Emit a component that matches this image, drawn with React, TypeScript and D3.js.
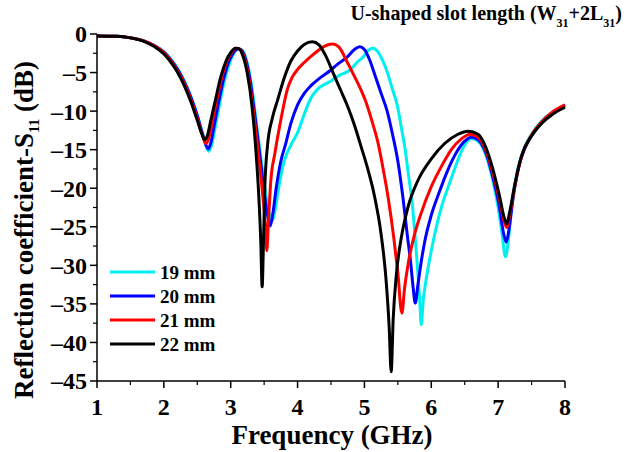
import React from "react";
import * as d3 from "d3";

const xTicks = [1, 2, 3, 4, 5, 6, 7, 8];
const yTicks = [0, -5, -10, -15, -20, -25, -30, -35, -40, -45];
const seriesNames = ["19 mm", "20 mm", "21 mm", "22 mm"];
const seriesColors = ["#00f0f0", "#0000ff", "#ff0000", "#000000"];

// frequency (GHz), S11 (dB)
const s19: [number, number][] = [
  [1.0, -0.25], [1.3, -0.3], [1.5, -0.5], [1.7, -0.9], [1.85, -1.45], [2.0, -2.3], [2.1, -3.2], [2.2, -4.4],
  [2.3, -6.0], [2.4, -8.0], [2.5, -10.5], [2.6, -13.5], [2.67, -15.2], [2.72, -14.2], [2.77, -12], [2.84, -8.8],
  [2.92, -5.6], [3.0, -3.4], [3.06, -2.3], [3.12, -1.9], [3.17, -2.1], [3.23, -3.2], [3.3, -6.0], [3.37, -10.5],
  [3.45, -16], [3.52, -20.5], [3.57, -23], [3.62, -24.2], [3.66, -23], [3.72, -19.8], [3.8, -16.5], [3.9, -14.4],
  [4.0, -12.8], [4.1, -10.4], [4.2, -8.3], [4.32, -7.0], [4.48, -6.2], [4.62, -5.4], [4.78, -4.7], [4.9, -3.6],
  [4.98, -3.0], [5.06, -2.1], [5.13, -1.86], [5.2, -2.3], [5.27, -3.4], [5.34, -4.9], [5.42, -7.2], [5.49, -9.2],
  [5.56, -12.5], [5.61, -15], [5.67, -19], [5.71, -21.5], [5.76, -26.5], [5.8, -31], [5.83, -35], [5.85, -37.7],
  [5.88, -34.5], [5.92, -32], [5.97, -29.5], [6.05, -26], [6.15, -22.5], [6.28, -19.2], [6.4, -16.3], [6.5, -14.4],
  [6.6, -13.6], [6.7, -13.9], [6.82, -15.8], [6.92, -19], [7.0, -22.5], [7.06, -26], [7.11, -28.9], [7.15, -27],
  [7.2, -22.5], [7.28, -18], [7.38, -15], [7.5, -13], [7.65, -11.3], [7.8, -10.2], [8.0, -9.3],
];
const s20: [number, number][] = [
  [1.0, -0.25], [1.3, -0.3], [1.5, -0.5], [1.7, -0.9], [1.85, -1.5], [2.0, -2.35], [2.1, -3.3], [2.2, -4.5],
  [2.3, -6.1], [2.4, -8.1], [2.5, -10.6], [2.6, -13.6], [2.66, -14.9], [2.7, -14.2], [2.75, -12], [2.82, -8.8],
  [2.9, -5.6], [2.98, -3.4], [3.05, -2.3], [3.11, -1.9], [3.16, -2.1], [3.22, -3.2], [3.29, -6], [3.36, -10.5],
  [3.44, -16], [3.5, -20.5], [3.55, -23.5], [3.59, -24.9], [3.63, -23.3], [3.68, -20], [3.75, -16.5], [3.82, -14.3],
  [3.9, -11.6], [4.0, -9.2], [4.1, -7.7], [4.2, -6.7], [4.35, -5.6], [4.48, -4.8], [4.6, -3.9], [4.74, -3.0],
  [4.85, -2.0], [4.93, -1.65], [5.0, -2.0], [5.08, -3.4], [5.16, -5.4], [5.25, -7.7], [5.34, -10], [5.42, -13],
  [5.5, -16.5], [5.58, -21.5], [5.64, -26], [5.69, -29.5], [5.73, -33], [5.76, -34.9], [5.8, -32.5], [5.85, -29.5],
  [5.9, -27], [6.0, -23.5], [6.12, -20.5], [6.23, -18], [6.38, -15.3], [6.5, -13.9], [6.6, -13.4], [6.7, -13.7],
  [6.82, -15.5], [6.92, -18.5], [7.02, -22.5], [7.08, -25.8], [7.12, -27.0], [7.16, -25.5], [7.22, -21.5],
  [7.3, -17.5], [7.4, -14.8], [7.55, -12.6], [7.7, -11], [7.85, -10], [8.0, -9.2],
];
const s21: [number, number][] = [
  [1.0, -0.25], [1.3, -0.3], [1.5, -0.5], [1.7, -0.9], [1.85, -1.5], [2.0, -2.4], [2.1, -3.4], [2.2, -4.7],
  [2.3, -6.3], [2.4, -8.4], [2.5, -10.9], [2.58, -13.2], [2.63, -14.2], [2.67, -13.6], [2.72, -11.6], [2.79, -8.6],
  [2.87, -5.5], [2.95, -3.4], [3.02, -2.3], [3.09, -1.85], [3.14, -2.0], [3.2, -3.0], [3.27, -5.6], [3.34, -10],
  [3.42, -16], [3.48, -21], [3.52, -25], [3.54, -28.1], [3.56, -25], [3.6, -19], [3.66, -15.5], [3.72, -12.5],
  [3.78, -9.8], [3.84, -7.4], [3.92, -5.6], [4.0, -4.6], [4.1, -3.7], [4.2, -2.9], [4.3, -2.2], [4.4, -1.6],
  [4.53, -1.3], [4.62, -1.7], [4.74, -3.6], [4.84, -5.3], [4.93, -6.9], [5.03, -9.0], [5.12, -11.5], [5.2, -14],
  [5.28, -17.5], [5.36, -21.5], [5.44, -26.5], [5.5, -31], [5.56, -36.2], [5.6, -33], [5.66, -29.5], [5.75, -26],
  [5.85, -23.2], [6.0, -19.8], [6.15, -17.2], [6.3, -15], [6.45, -13.6], [6.58, -13.0], [6.7, -13.4], [6.82, -15.2],
  [6.92, -18], [7.02, -21.5], [7.09, -24.3], [7.13, -25.1], [7.17, -23.6], [7.25, -19.7], [7.35, -15.9],
  [7.5, -13.1], [7.65, -11.4], [7.8, -10.2], [8.0, -9.2],
];
const s22: [number, number][] = [
  [1.0, -0.25], [1.3, -0.3], [1.5, -0.5], [1.7, -0.95], [1.85, -1.6], [2.0, -2.6], [2.1, -3.6], [2.2, -4.9],
  [2.3, -6.6], [2.4, -8.7], [2.5, -11.2], [2.57, -13.0], [2.61, -13.7], [2.65, -13.2], [2.7, -11.3], [2.77, -8.6],
  [2.85, -5.6], [2.93, -3.5], [3.0, -2.4], [3.07, -1.85], [3.12, -1.9], [3.18, -2.8], [3.25, -5.2], [3.32, -9.5],
  [3.38, -15.5], [3.42, -21], [3.45, -27], [3.47, -32.8], [3.49, -27], [3.51, -20], [3.55, -14.5], [3.62, -11],
  [3.7, -8.6], [3.8, -5.7], [3.9, -3.5], [4.0, -2.2], [4.1, -1.35], [4.22, -1.0], [4.32, -1.4], [4.42, -2.8],
  [4.53, -5.0], [4.64, -7.2], [4.75, -9.4], [4.85, -11.8], [4.95, -14.6], [5.05, -17.5], [5.15, -21], [5.25, -26],
  [5.32, -31.5], [5.37, -38], [5.4, -43.8], [5.43, -37], [5.48, -31], [5.55, -26.5], [5.65, -22.5], [5.8, -19],
  [6.0, -16.2], [6.2, -14.2], [6.4, -13.0], [6.55, -12.6], [6.7, -13.0], [6.82, -14.8], [6.92, -17.5], [7.02, -21],
  [7.09, -23.8], [7.13, -24.6], [7.17, -23.2], [7.25, -19.5], [7.35, -15.8], [7.5, -13.2], [7.65, -11.6],
  [7.8, -10.5], [8.0, -9.5],
];
const seriesData = [s19, s20, s21, s22];

const W = 627;
const H = 452;
const FONT = "'Liberation Serif', 'Times New Roman', serif";

export default function App() {
  const x = d3.scaleLinear().domain([1, 8]).range([97, 565]);
  const y = d3.scaleLinear().domain([0, -45]).range([34, 381]);
  const line = d3
    .line<[number, number]>()
    .x((d) => x(d[0]))
    .y((d) => y(d[1]))
    .curve(d3.curveMonotoneX);

  const xMinor = d3.range(1.5, 8, 1);
  const yMinor = d3.range(-2.5, -45, -5);
  const x0 = x(1);
  const yB = y(-45);
  const fmtY = (t: number) => (t < 0 ? "\u2013" + Math.abs(t) : String(t));

  return (
    <svg
      width={W}
      height={H}
      style={{ position: "absolute", left: 0, top: 0, background: "#fff" }}
      fontFamily={FONT}
      fontWeight="bold"
    >
      <rect width={W} height={H} fill="#fff" />
      {/* series */}
      {seriesData.map((s, i) => (
        <path
          key={i}
          d={line(s) || ""}
          fill="none"
          stroke={seriesColors[i]}
          strokeWidth={3}
          strokeLinejoin="round"
        />
      ))}
      {/* axes */}
      <line x1={x0} x2={x0} y1={y(0)} y2={yB} stroke="#000" strokeWidth={1.5} />
      <line x1={x0} x2={x(8)} y1={yB} y2={yB} stroke="#000" strokeWidth={1.5} />
      {yTicks.map((t) => (
        <g key={"y" + t}>
          <line x1={x0 - 7} x2={x0} y1={y(t)} y2={y(t)} stroke="#000" strokeWidth={1.5} />
          <text x={87} y={y(t)} dy="0.35em" textAnchor="end" fontSize={24}>
            {fmtY(t)}
          </text>
        </g>
      ))}
      {yMinor.map((t) => (
        <line key={"ym" + t} x1={x0 - 4} x2={x0} y1={y(t)} y2={y(t)} stroke="#000" strokeWidth={1.2} />
      ))}
      {xTicks.map((t) => (
        <g key={"x" + t}>
          <line x1={x(t)} x2={x(t)} y1={yB} y2={yB + 7} stroke="#000" strokeWidth={1.5} />
          <text x={x(t)} y={415} textAnchor="middle" fontSize={24}>
            {t}
          </text>
        </g>
      ))}
      {xMinor.map((t) => (
        <line key={"xm" + t} x1={x(t)} x2={x(t)} y1={yB} y2={yB + 4} stroke="#000" strokeWidth={1.2} />
      ))}
      {/* axis titles */}
      <text x={332} y={444} textAnchor="middle" fontSize={27}>
        Frequency (GHz)
      </text>
      <text transform="translate(33,230) rotate(-90)" textAnchor="middle" fontSize={27}>
        Reflection coefficient-S
        <tspan fontSize={15} dy={6}>11</tspan>
        <tspan dy={-6}> (dB)</tspan>
      </text>
      {/* title */}
      <text x={622} y={20} textAnchor="end" fontSize={20}>
        U-shaped slot length (W<tspan fontSize={12} dy={7}>31</tspan>
        <tspan dy={-7}>+2L</tspan>
        <tspan fontSize={12} dy={7}>31</tspan>
        <tspan dy={-7}>)</tspan>
      </text>
      {/* legend */}
      {seriesNames.map((n, i) => (
        <g key={n}>
          <line x1={110} x2={155} y1={272 + i * 24} y2={272 + i * 24} stroke={seriesColors[i]} strokeWidth={3} />
          <text x={160} y={272 + i * 24} dy="0.35em" fontSize={19}>
            {n}
          </text>
        </g>
      ))}
    </svg>
  );
}
